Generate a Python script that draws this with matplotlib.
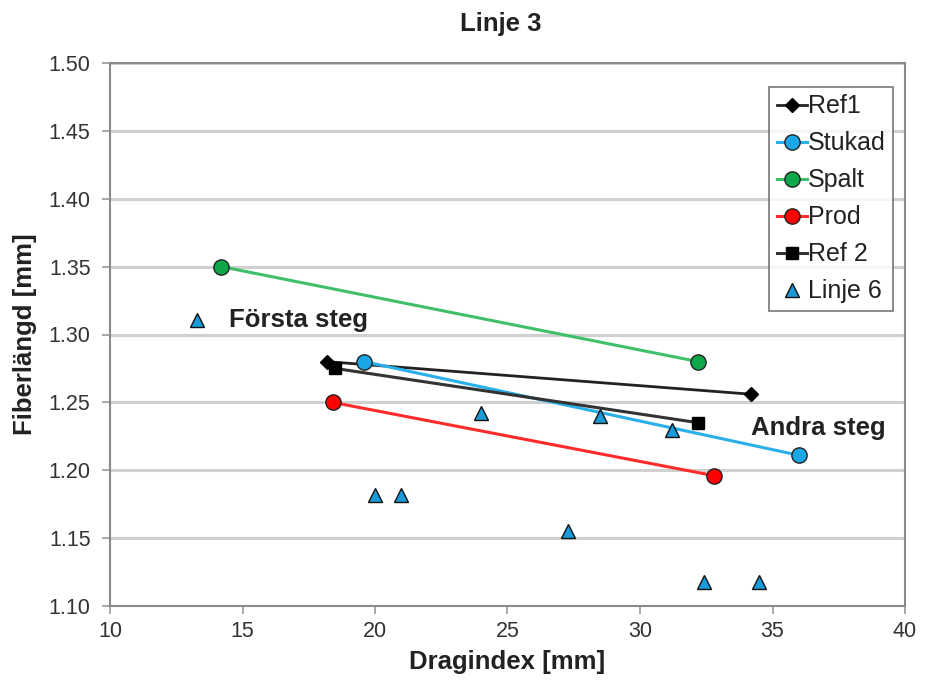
import matplotlib
matplotlib.use("Agg")
import matplotlib.pyplot as plt

plt.rcParams['font.family'] = ['Liberation Sans', 'DejaVu Sans']

# data
ref1_x = [18.2, 34.2]
ref1_y = [1.280, 1.256]
stukad_x = [19.6, 36.0]
stukad_y = [1.280, 1.211]
spalt_x = [14.2, 32.2]
spalt_y = [1.350, 1.280]
prod_x = [18.4, 32.8]
prod_y = [1.250, 1.196]
ref2_x = [18.5, 32.2]
ref2_y = [1.275, 1.235]
linje6_x = [13.3, 20.0, 21.0, 24.0, 27.3, 28.5, 31.2, 32.4, 34.5]
linje6_y = [1.311, 1.182, 1.182, 1.242, 1.155, 1.240, 1.230, 1.118, 1.118]

x_ticks = [10, 15, 20, 25, 30, 35, 40]
y_ticks = [1.10, 1.15, 1.20, 1.25, 1.30, 1.35, 1.40, 1.45, 1.50]

fig = plt.figure(figsize=(9.29, 6.8), dpi=100)
ax = fig.add_axes([110/929, 1-606/680, 795/929, 543/680])

for y in y_ticks:
	ax.axhline(y, color='#d0d0d0', lw=2.2, zorder=0)

ax.plot(ref1_x, ref1_y, color='#222222', lw=2, marker='D', ms=7,
	mfc='black', mec='black', label='Ref1', zorder=3)
ax.plot(stukad_x, stukad_y, color='#29b0ea', lw=2.2, marker='o', ms=11,
	mfc='#1aa7e8', mec='#222222', mew=1, label='Stukad', zorder=3)
ax.plot(spalt_x, spalt_y, color='#3fbf6a', lw=2.2, marker='o', ms=11,
	mfc='#0ea84a', mec='#222222', mew=1, label='Spalt', zorder=3)
ax.plot(prod_x, prod_y, color='#ff2a2a', lw=2.2, marker='o', ms=11,
	mfc='#ff0000', mec='#222222', mew=1, label='Prod', zorder=3)
ax.plot(ref2_x, ref2_y, color='#333333', lw=2.2, marker='s', ms=9,
	mfc='black', mec='black', label='Ref 2', zorder=3)
ax.plot(linje6_x, linje6_y, ls='none', marker='^', ms=10,
	mfc='#1a9ad8', mec='#111111', mew=1, label='Linje 6', zorder=4)

ax.text(14.5, 1.311, 'Första steg', fontsize=18.5, fontweight='bold',
	color='#222222', va='center', ha='left')
ax.text(34.2, 1.231, 'Andra steg', fontsize=18.5, fontweight='bold',
	color='#222222', va='center', ha='left')

ax.set_xlim(10, 40)
ax.set_ylim(1.10, 1.50)
ax.set_xticks(x_ticks)
ax.set_yticks(y_ticks)
ax.set_yticklabels(['%.2f' % v for v in y_ticks])
ax.tick_params(labelsize=15.5, colors='#333333', length=6, width=1.2,
	color='#999999')
ax.tick_params(axis='y', pad=8)
ax.tick_params(axis='x', pad=5)
for s in ax.spines.values():
	s.set_color('#8a8a8a')
	s.set_linewidth(1.5)

ax.set_xlabel('Dragindex [mm]', fontsize=18.5, fontweight='bold', color='#222222')
ax.set_ylabel('Fiberlängd [mm]', fontsize=18.5, fontweight='bold', color='#222222')
ax.xaxis.set_label_coords(0.5, -0.081)
ax.yaxis.set_label_coords(-0.092, 0.5)
fig.text(501/929, 1-24/680, 'Linje 3', fontsize=18.5, fontweight='bold',
	color='#222222', ha='center', va='center')

leg = ax.legend(loc='upper right', fontsize=18, frameon=True, fancybox=False,
	handlelength=1.2, handletextpad=0.05, borderpad=0.3, labelspacing=0.52,
	borderaxespad=0, bbox_to_anchor=(0.985, 0.956))
leg.get_frame().set_edgecolor('#555555')
leg.get_frame().set_linewidth(1.2)
for t in leg.get_texts():
	t.set_color('#222222')

fig.savefig('out.png', dpi=100)
